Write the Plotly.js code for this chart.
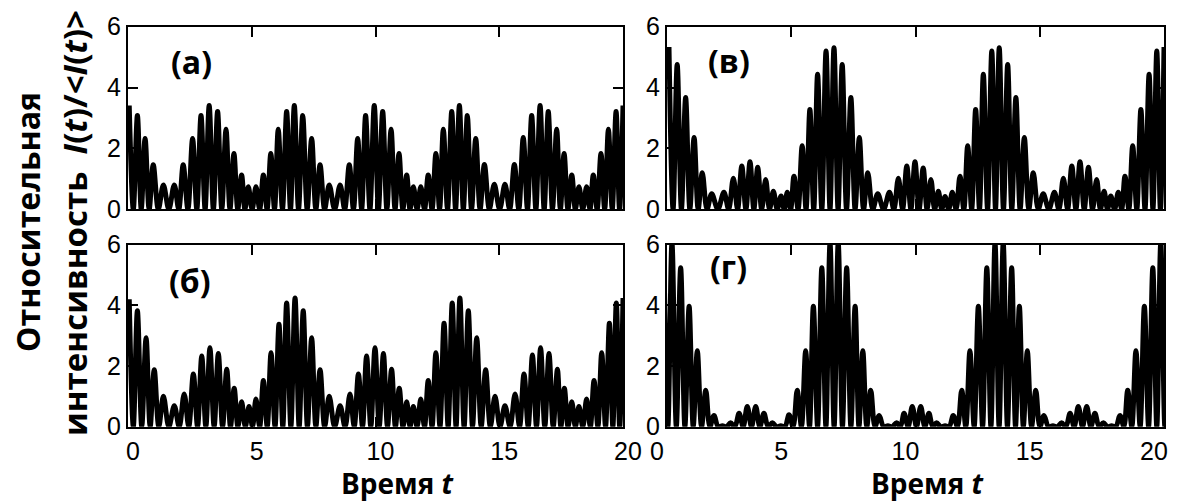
<!DOCTYPE html>
<html>
<head>
<meta charset="utf-8">
<script src="https://cdn.plot.ly/plotly-3.0.1.min.js"></script>
<style>html,body{margin:0;padding:0;background:#fff;}#chart{width:1190px;height:502px;}</style>
</head>
<body>
<div id="chart"></div>
<script>
// Peak times (t) and peak heights of I(t)/<I(t)>; minima between peaks read as 0.
const tA = [0.05,0.38,0.69,1.02,1.43,1.87,2.23,2.61,2.95,3.28,3.62,3.96,4.28,4.59,4.86,5.17,5.47,5.77,6.07,6.41,6.72,7.06,7.42,7.76,8.13,8.57,8.94,9.28,9.60,9.95,10.29,10.63,10.95,11.26,11.53,11.83,12.13,12.44,12.74,13.08,13.39,13.71,14.05,14.40,14.80,15.23,15.61,15.97,16.31,16.65,16.98,17.32,17.62,17.93,18.22,18.53,18.80,19.11,19.41,19.72,20.0];
const hA = [3.41,3.08,2.33,1.46,0.80,0.80,1.46,2.33,3.08,3.41,3.21,2.63,1.83,1.13,0.74,0.74,1.13,1.83,2.63,3.21,3.41,3.08,2.33,1.46,0.80,0.80,1.46,2.33,3.08,3.41,3.21,2.63,1.83,1.13,0.74,0.74,1.13,1.83,2.63,3.21,3.41,3.08,2.33,1.47,0.82,0.82,1.47,2.36,3.08,3.41,3.21,2.63,1.83,1.13,0.74,0.74,1.13,1.83,2.63,3.21,3.41];

const tB = [0.05,0.38,0.73,1.06,1.43,1.87,2.27,2.64,2.98,3.31,3.65,3.99,4.29,4.59,4.89,5.17,5.47,5.78,6.10,6.41,6.75,7.08,7.42,7.76,8.13,8.57,8.97,9.31,9.64,9.98,10.32,10.65,10.96,11.26,11.53,11.83,12.13,12.44,12.77,13.10,13.41,13.75,14.09,14.45,14.83,15.23,15.64,16.00,16.34,16.67,17.01,17.35,17.63,17.93,18.22,18.53,18.83,19.14,19.45,19.73,20.0];
const hB = [4.20,3.82,2.93,1.88,1.00,0.69,1.08,1.74,2.33,2.60,2.41,1.89,1.27,0.82,0.67,0.91,1.52,2.44,3.38,4.08,4.24,3.82,2.93,1.88,1.00,0.69,1.08,1.74,2.33,2.60,2.41,1.89,1.27,0.82,0.67,0.91,1.52,2.44,3.41,4.08,4.24,3.82,2.93,1.88,1.00,0.69,1.08,1.74,2.36,2.60,2.41,1.89,1.27,0.82,0.67,0.91,1.52,2.44,3.41,4.08,4.24];

const tC = [0.08,0.41,0.75,1.09,1.42,1.80,2.29,2.67,3.01,3.34,3.65,3.97,4.28,4.59,4.84,5.11,5.44,5.75,6.06,6.40,6.72,7.05,7.40,7.74,8.08,8.48,8.95,9.31,9.65,9.98,10.31,10.62,10.92,11.19,11.48,11.79,12.10,12.42,12.73,13.07,13.37,13.71,14.04,14.38,14.74,15.14,15.59,15.95,16.29,16.62,16.96,17.29,17.59,17.86,18.16,18.43,18.74,19.07,19.40,19.71,20.0];
const hC = [5.33,4.76,3.67,2.36,1.20,0.51,0.56,1.02,1.42,1.56,1.38,0.98,0.59,0.44,0.56,1.09,2.09,3.28,4.44,5.20,5.31,4.76,3.67,2.36,1.20,0.51,0.56,1.02,1.42,1.56,1.36,0.98,0.59,0.42,0.56,1.09,2.09,3.28,4.44,5.20,5.31,4.76,3.67,2.36,1.20,0.51,0.56,1.02,1.42,1.56,1.38,0.98,0.59,0.44,0.56,1.09,2.09,3.28,4.44,5.20,5.33];

const tD = [-0.13,0.20,0.55,0.89,1.22,1.56,1.89,2.23,2.56,2.90,3.23,3.57,3.90,4.24,4.58,4.91,5.24,5.58,5.89,6.23,6.56,6.89,7.23,7.57,7.88,8.20,8.54,8.89,9.24,9.54,9.87,10.21,10.54,10.85,11.19,11.52,11.86,12.19,12.53,12.87,13.20,13.53,13.87,14.18,14.50,14.84,15.17,15.53,15.88,16.22,16.55,16.89,17.22,17.56,17.89,18.23,18.54,18.87,19.21,19.55,19.87,20.2];
const hD = [6.06,6.06,5.24,3.97,2.50,1.20,0.37,0.03,0.13,0.44,0.67,0.67,0.44,0.13,0.03,0.39,1.20,2.50,3.97,5.24,6.06,6.06,5.24,3.97,2.50,1.20,0.37,0.03,0.13,0.44,0.67,0.67,0.44,0.13,0.03,0.37,1.20,2.50,3.97,5.24,6.06,6.06,5.24,3.97,2.50,1.20,0.37,0.03,0.13,0.44,0.67,0.67,0.44,0.13,0.03,0.37,1.20,2.50,3.97,5.24,6.06,6.06];

const xTicks = [0, 5, 10, 15, 20];
const yTicks = [0, 2, 4, 6];
const panelLabels = ['(а)', '(б)', '(в)', '(г)'];
const xTitle = 'Время <i>t</i>';
const yTitle1 = 'Относительная';
const yTitle2 = 'интенсивность&nbsp;&nbsp;<i>I</i>(<i>t</i>)/<<i>I</i>(<i>t</i>)>';

function wave(tp, hp) {
  const x = [], y = [];
  for (let i = 0; i < tp.length; i++) {
    x.push(tp[i]); y.push(hp[i]);
    if (i < tp.length - 1) { x.push((tp[i] + tp[i + 1]) / 2); y.push(0); }
  }
  return {x, y};
}

const line = {color: '#000', width: 5, shape: 'spline', smoothing: 1};
const sets = [[tA, hA, 'x', 'y'], [tB, hB, 'x2', 'y2'], [tC, hC, 'x3', 'y3'], [tD, hD, 'x4', 'y4']];
const traces = sets.map(s => {
  const w = wave(s[0], s[1]);
  return {x: w.x, y: w.y, xaxis: s[2], yaxis: s[3], type: 'scatter', mode: 'lines', line: line, hoverinfo: 'skip'};
});

const tickFont = {family: 'Liberation Sans, Arial, sans-serif', size: 25, color: '#000'};
function xa(domain, anchor, labels, shift) {
  return {domain: domain, anchor: anchor, range: [0, 20], tickvals: xTicks, ticktext: xTicks.map(String),
    showticklabels: labels, ticks: 'inside', ticklen: 10, tickwidth: 2, tickcolor: '#000',
    ticklabelstandoff: 1, ticklabelshift: shift,
    showline: true, linecolor: '#000', linewidth: 2, mirror: 'ticks', showgrid: false, zeroline: false,
    tickfont: tickFont, fixedrange: true};
}
function ya(domain, anchor) {
  return {domain: domain, anchor: anchor, range: [0, 6], tickvals: yTicks, ticktext: yTicks.map(String),
    ticks: 'inside', ticklen: 10, tickwidth: 2, tickcolor: '#000',
    showline: true, linecolor: '#000', linewidth: 2, mirror: 'ticks', showgrid: false, zeroline: false,
    tickfont: tickFont, fixedrange: true};
}
const W = 1190, H = 502;
const dxL = [128 / W, 623 / W], dxR = [667 / W, 1164 / W];
const dyT = [1 - 209.3 / H, 1 - 26.7 / H], dyB = [1 - 426.7 / H, 1 - 244.7 / H];

const boldFont = (s) => ({family: 'Open Sans, Noto Sans, sans-serif', size: s, color: '#000', weight: 700});
function ann(text, px, py, size, angle) {
  return {text: text, x: px / W, y: 1 - py / H, xref: 'paper', yref: 'paper', showarrow: false,
    xanchor: 'center', yanchor: 'middle', font: boldFont(size), textangle: angle || 0};
}

const layout = {
  width: W, height: H, margin: {l: 0, r: 0, t: 0, b: 0},
  paper_bgcolor: '#fff', plot_bgcolor: '#fff', showlegend: false,
  xaxis: xa(dxL, 'y', false, 0), yaxis: ya(dyT, 'x'),
  xaxis2: xa(dxL, 'y2', true, 5), yaxis2: ya(dyB, 'x2'),
  xaxis3: xa(dxR, 'y3', false, 0), yaxis3: ya(dyT, 'x3'),
  xaxis4: xa(dxR, 'y4', true, -10), yaxis4: ya(dyB, 'x4'),
  annotations: [
    ann(panelLabels[0], 191, 61, 32), ann(panelLabels[1], 190, 280, 32),
    ann(panelLabels[2], 729, 60, 32), ann(panelLabels[3], 728, 266, 32),
    ann(xTitle, 398, 483, 28), ann(xTitle, 928, 483, 28),
    ann(yTitle1, 27, 222, 32, -90), ann(yTitle2, 74, 223, 33, -90)
  ]
};
Plotly.newPlot('chart', traces, layout, {staticPlot: true, displayModeBar: false});
</script>
</body>
</html>
